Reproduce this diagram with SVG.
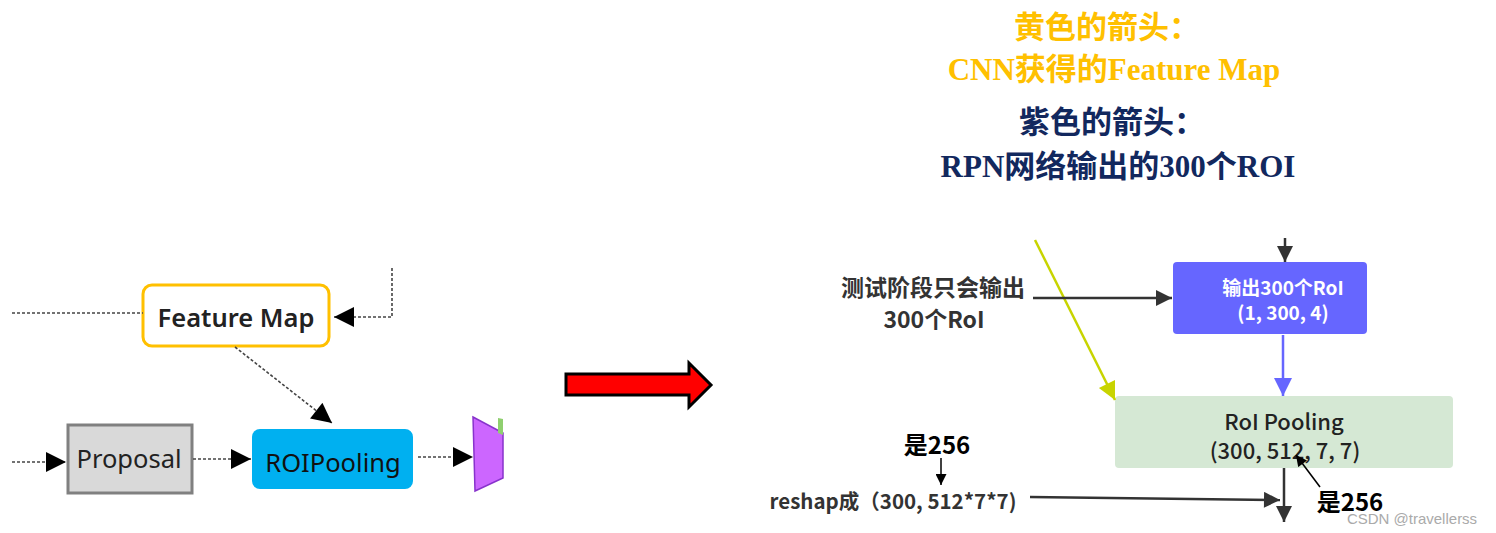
<svg xmlns="http://www.w3.org/2000/svg" width="1496" height="533" viewBox="0 0 1496 533">
<style>
.dash{fill:none;stroke:#444;stroke-width:1.6;stroke-dasharray:3 2}
.blk{fill:none;stroke:#333;stroke-width:2.5}
.thin{fill:none;stroke:#000;stroke-width:1.5}
.lt{font-family:"Noto Sans","Open Sans","Noto Sans CJK SC",sans-serif;font-size:25.5px;text-anchor:middle}
.cn{font-family:"Noto Sans CJK SC","Noto Sans",sans-serif;font-weight:bold;text-anchor:middle;fill:#333}
.ttl{font-family:"Liberation Serif","Noto Sans CJK SC",serif;font-weight:bold;font-size:31px;text-anchor:middle}
</style>
<defs>
<marker id="ah" viewBox="0 0 10 10" refX="10" refY="5" markerWidth="12" markerHeight="11" markerUnits="userSpaceOnUse" orient="auto"><path d="M0,0L10,5L0,10z" fill="#000"/></marker>
<marker id="ahL" viewBox="0 0 10 10" refX="10" refY="5" markerWidth="21" markerHeight="20" markerUnits="userSpaceOnUse" orient="auto"><path d="M0,0L10,5L0,10z" fill="#000"/></marker>
<marker id="ahD" viewBox="0 0 10 10" refX="10" refY="5" markerWidth="18" markerHeight="16" markerUnits="userSpaceOnUse" orient="auto"><path d="M0,0L10,5L0,10z" fill="#333"/></marker>
<marker id="ahP" viewBox="0 0 10 10" refX="10" refY="5" markerWidth="22" markerHeight="18" markerUnits="userSpaceOnUse" orient="auto"><path d="M0,0L10,5L0,10z" fill="#6666FF"/></marker>
<marker id="ahY" viewBox="0 0 10 10" refX="10" refY="5" markerWidth="22" markerHeight="18" markerUnits="userSpaceOnUse" orient="auto"><path d="M0,0L10,5L0,10z" fill="#C8D400"/></marker>
</defs>
<rect width="1496" height="533" fill="#fff"/>

<g id="feature-map">
<rect x="143" y="285" width="186" height="61" rx="9" fill="#fff" stroke="#FFC000" stroke-width="3"/>
<text class="lt" x="236" y="327" font-weight="600" fill="#222">Feature Map</text>
</g>
<g id="proposal">
<rect x="68" y="425" width="124" height="68" fill="#d9d9d9" stroke="#808080" stroke-width="3"/>
<text class="lt" x="129" y="468" fill="#222">Proposal</text>
</g>
<g id="roipooling">
<rect x="252" y="429" width="161" height="60" rx="8" fill="#00B0F0"/>
<text class="lt" x="333" y="472" fill="#111">ROIPooling</text>
</g>
<g id="purple-layer">
<path d="M473,417L503,433V478L475,491z" fill="#CC66FF" stroke="#8833CC" stroke-width="1.5"/>
<path d="M498,433V418L503,419V435z" fill="#8FCF6F"/>
</g>

<g id="big-arrow">
<path d="M566,374H689V363L711,385L689,407V395H566z" fill="#FF0000" stroke="#000" stroke-width="3" stroke-linejoin="miter"/>
</g>

<g id="titles">
<text class="ttl" x="1107" y="38" fill="#FFC000">黄色的箭头：</text>
<text class="ttl" x="1114" y="80" fill="#FFC000">CNN获得的Feature Map</text>
<text class="ttl" x="1112" y="133" fill="#12285E">紫色的箭头：</text>
<text class="ttl" x="1118" y="177" fill="#12285E">RPN网络输出的300个ROI</text>
</g>

<g id="test-note">
<text class="cn" x="933" y="296" font-size="23">测试阶段只会输出</text>
<text class="cn" x="934" y="328" font-size="23">300个RoI</text>
</g>
<g id="output-roi">
<rect x="1173" y="262" width="194" height="72" rx="4" fill="#6666FF"/>
<text class="cn" x="1283" y="295" font-size="19" style="fill:#fff">输出300个RoI</text>
<text class="cn" x="1283" y="320" font-size="19" style="fill:#fff">(1, 300, 4)</text>
</g>
<g id="roi-pooling">
<rect x="1115" y="396" width="338" height="72" rx="4" fill="#D5E8D4"/>
<text class="cn" x="1284" y="430" font-size="22" style="fill:#222;font-weight:500">RoI Pooling</text>
<text class="cn" x="1285" y="459" font-size="22" style="fill:#222;font-weight:500">(300, 512, 7, 7)</text>
</g>
<g id="reshape-note">
<text class="cn" x="893" y="509" font-size="20.5">reshap成（300, 512*7*7)</text>
</g>
<g id="note256a">
<text class="cn" x="937" y="454" font-size="24" style="fill:#000">是256</text>
</g>
<g id="note256b">
<text class="cn" x="1350" y="511" font-size="24" style="fill:#000">是256</text>
</g>
<text x="1412" y="524" font-family="'Liberation Sans',sans-serif" font-size="15" fill="#aaa" text-anchor="middle">CSDN @travellerss</text>

<g id="connectors">
<path class="dash" d="M12,313H143"/>
<path class="dash" d="M392,268V317H334" marker-end="url(#ahL)"/>
<path class="dash" d="M235,347L332,423" marker-end="url(#ahL)"/>
<path class="dash" d="M12,462H66" marker-end="url(#ahL)"/>
<path class="dash" d="M193,459H251" marker-end="url(#ahL)"/>
<path class="dash" d="M418,457H473" marker-end="url(#ahL)"/>
<path d="M1035,240L1115,400" fill="none" stroke="#C8D400" stroke-width="2.5" marker-end="url(#ahY)"/>
<path class="blk" d="M1285,238V262" marker-end="url(#ahD)"/>
<path class="blk" d="M1033,298H1172" marker-end="url(#ahD)"/>
<path d="M1283,335V396" fill="none" stroke="#6666FF" stroke-width="2.5" marker-end="url(#ahP)"/>
<path class="blk" d="M1284,468V522" marker-end="url(#ahD)"/>
<path class="blk" d="M1030,497L1280,500" marker-end="url(#ahD)"/>
<path class="thin" d="M941,458V485" marker-end="url(#ah)"/>
<path class="thin" d="M1320,487L1296,455" marker-end="url(#ah)"/>
</g>
</svg>
